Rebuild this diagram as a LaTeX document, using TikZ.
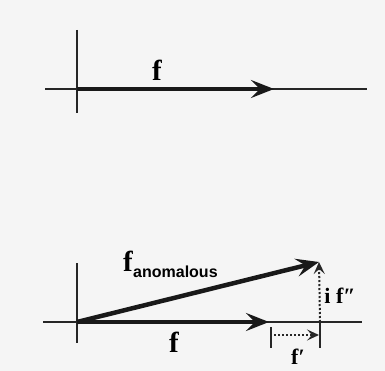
\documentclass[tikz,border=0pt]{standalone}
\usepackage{fontspec}
\setmainfont{Liberation Serif}
\newfontfamily\lsans{Liberation Sans}
\usetikzlibrary{arrows.meta}
\begin{document}
\begin{tikzpicture}[x=1pt,y=-1pt,
  axis/.style={line width=2pt,black!85},
  vec/.style={line width=4.5pt,black!90,-{Stealth[length=23pt,width=18pt,inset=9pt]}},
  dotvec/.style={line width=2pt,black!85,dotted,-{Stealth[length=12pt,width=11pt,inset=5pt]}},
  big/.style={font=\fontsize{29}{29}\bfseries\selectfont,inner sep=0pt},
  small/.style={font=\fontsize{22}{22}\bfseries\selectfont,inner sep=0pt}]
\fill[black!4] (0,0) rectangle (385,371);
\useasboundingbox (0,0) rectangle (385,371);
% top
\coordinate (t0) at (77,89);
\coordinate (tl) at (45,89);
\coordinate (tr) at (367,89);
\coordinate (tu) at (77,30);
\coordinate (td) at (77,113);
\coordinate (tf) at (274,89);
\draw[axis] (tl) -- (tr);
\draw[axis] (tu) -- (td);
\draw[vec] (t0) -- (tf);
\node[big] (lf1) at (157,70) {f};
% bottom
\coordinate (b0) at (77,322);
\coordinate (bl) at (43,322);
\coordinate (br) at (362,322);
\coordinate (bu) at (77,263);
\coordinate (bd) at (77,343);
\coordinate (bf) at (269,322);
\coordinate (ba) at (319,262);
\coordinate (k1u) at (271,327);
\coordinate (k1d) at (271,348);
\coordinate (k2u) at (320,322);
\coordinate (k2d) at (320,348);
\coordinate (d1) at (274,335);
\coordinate (d2) at (319,335);
\draw[axis] (bl) -- (br);
\draw[axis] (bu) -- (bd);
\draw[axis] (k1u) -- (k1d);
\draw[axis] (k2u) -- (k2d);
\draw[vec] (b0) -- (bf);
\draw[vec] (b0) -- (ba);
\draw[dotvec] (k2u) -- (ba);
\draw[dotvec] (d1) -- (d2);
\node[big] (lf2) at (174,342) {f};
\node[big] (lfa) at (128,261) {f};
\node[font=\lsans\fontsize{16}{16}\bfseries\selectfont,inner sep=0pt,anchor=west] (lan) at (133,272) {anomalous};
\node[small] (lfp) at (298,357) {f′};
\node[small] (lfpp) at (340,296) {i f″};
\end{tikzpicture}
\end{document}
